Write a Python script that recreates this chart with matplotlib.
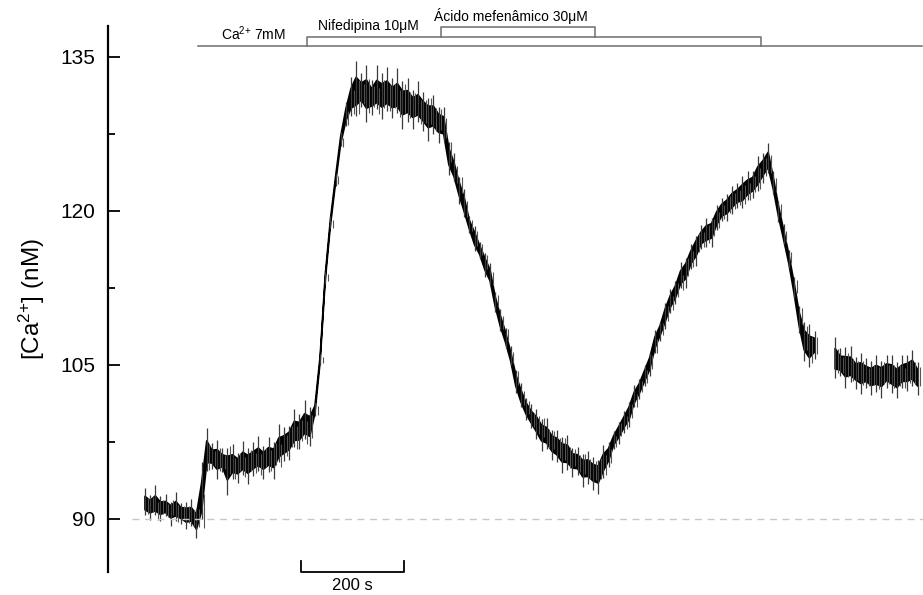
import numpy as np
import matplotlib
matplotlib.use('Agg')
import matplotlib.pyplot as plt

plt.rcParams['font.family'] = ['Liberation Sans', 'DejaVu Sans']
plt.rcParams['mathtext.default'] = 'regular'

# registro de [Ca2+] amostrado a cada 10 s (NaN = trecho sem registro)
tempo = np.arange(0, 1510, 10)
ca_medio = [
    91.4, 91.3, 91.2, 91.1, 91.0, 90.9, 90.8, 90.6, 90.4, 90.3, 89.9,
    91.5,
    96.3, 96.0, 95.8, 95.6, 95.3, 95.2, 95.3, 95.4, 95.5, 95.6, 95.7,
    95.8, 95.9, 96.1, 96.6, 97.2, 97.8, 98.3, 98.6, 98.9, 99.0,
    100.6, 105.5, 113.5, 118.8, 123.0, 126.8, 129.2, 130.8,
    131.4, 131.5, 131.3, 131.1, 131.2, 131.3, 131.3, 131.1, 130.9,
    130.7, 130.5, 130.2, 130.0, 129.7, 129.4, 129.1, 128.7, 128.2,
    125.5, 123.8, 122.3, 120.4, 118.6, 117.3, 116.2, 114.9, 113.6,
    111.2, 109.2, 107.8, 105.8, 103.6, 101.9, 100.8, 99.8,
    99.2, 98.6, 98.0, 97.5, 97.0, 96.6, 96.2, 95.8, 95.5, 95.1,
    94.9, 94.6, 94.6, 95.4,
    96.2, 97.6, 98.6, 99.4, 100.4, 101.7, 102.8, 103.9, 105.2, 107.0,
    108.4, 109.9, 111.1, 112.2, 113.3, 114.3, 115.4, 116.6, 117.3,
    117.8, 118.2, 119.2, 120.0, 120.5, 121.0, 121.4, 121.7, 122.1,
    122.6, 123.3, 124.2, 124.8,
    122.6, 120.0, 117.6, 115.4, 112.6, 109.6, 107.5, 106.6, 106.9,
    np.nan, np.nan, np.nan,
    105.5, 105.1, 104.9, 104.7, 104.4, 104.2, 104.0, 103.9, 103.9,
    104.0, 104.2, 104.0, 103.8, 104.0, 104.3, 104.4, 103.8,
]
# amplitude do ruído abaixo e acima do valor médio (nM)
ruido_baixo = [
    1.0, 1.4, 0.8, 1.3, 0.7, 1.6, 1.0, 1.1, 1.4, 1.0, 1.8,
    1.5,
    1.6, 1.1, 1.9, 1.0, 3.0, 1.3, 1.8, 1.1, 2.1, 1.4, 1.0, 1.9, 1.3,
    2.2, 1.1, 1.6, 2.1, 1.3, 1.8, 1.1, 1.9,
    0.6, 0.5, 0.6, 0.5, 0.6, 0.5, 0.9, 1.6,
    2.2, 1.4, 2.6, 1.8, 1.3, 2.4, 1.6, 2.1, 1.4, 2.7, 1.8, 2.2, 1.3,
    1.9, 2.6, 1.6, 2.1, 1.4,
    2.0, 0.9, 1.6, 1.0, 0.8, 1.2, 0.9, 1.3, 0.8, 1.0, 0.9, 1.2, 0.8,
    1.3, 1.0, 1.2, 0.9,
    1.4, 2.0, 1.2, 1.8, 1.5, 2.1, 1.4, 1.7, 1.2, 2.0, 1.5, 1.8, 2.2, 1.4,
    1.1, 0.8, 1.3, 1.0, 1.4, 0.8, 1.1, 1.0, 1.3, 0.8, 1.1, 1.4, 1.0,
    1.3, 0.8, 1.8, 1.1, 2.0, 1.0, 1.3, 1.7, 1.1, 1.0, 1.5, 1.3, 1.1,
    1.4, 1.0, 1.3, 1.4, 1.5, 1.1,
    1.0, 1.1, 0.8, 1.0, 1.1, 1.5, 2.1, 1.8, 1.3,
    0.0, 0.0, 0.0,
    1.8, 1.2, 2.1, 1.4, 1.7, 2.0, 1.2, 1.8, 1.5, 2.2, 1.4, 1.7, 2.0,
    1.2, 1.8, 1.5, 1.7,
]
ruido_alto = [
    1.6, 1.0, 2.1, 1.1, 1.4, 0.8, 1.8, 1.0, 1.3, 1.6, 1.1,
    4.0,
    2.6, 1.4, 1.9, 1.3, 1.6, 2.1, 1.1, 2.2, 1.4, 1.9, 2.4, 1.3, 2.1,
    1.4, 2.6, 1.8, 1.3, 2.4, 1.6, 2.7, 1.9,
    0.8, 0.6, 0.5, 0.7, 0.6, 0.9, 1.4, 2.2,
    3.2, 1.9, 2.9, 1.6, 3.0, 2.1, 2.7, 1.8, 3.0, 1.9, 2.4, 1.6, 2.6,
    1.9, 1.6, 2.2, 1.4, 1.9,
    1.2, 1.8, 1.0, 1.7, 0.9, 1.2, 0.8, 1.0, 1.3, 0.9, 1.2, 0.8, 1.0,
    0.9, 1.3, 1.0, 1.4,
    1.5, 1.1, 1.8, 1.2, 1.7, 1.4, 2.0, 1.1, 1.5, 1.2, 1.7, 1.4, 1.1, 1.8,
    1.3, 1.0, 0.8, 1.1, 1.0, 1.3, 0.8, 1.1, 1.0, 1.4, 0.8, 1.1, 1.3,
    1.0, 1.7, 1.1, 1.4, 1.0, 1.3, 1.5, 1.1, 1.4, 1.3, 1.1, 1.4, 1.3,
    1.7, 1.8, 1.3, 2.0, 1.4, 1.8,
    1.3, 1.0, 1.1, 0.8, 1.0, 1.1, 1.7, 2.4, 1.4,
    0.0, 0.0, 0.0,
    2.2, 1.5, 1.8, 2.1, 1.4, 2.0, 1.7, 1.5, 2.1, 1.4, 1.8, 2.0, 1.5,
    2.0, 1.7, 2.1, 1.5,
]

# protocolo de perfusão (s)
ca_inicio, ca_fim = 103, 1509
nif_inicio, nif_fim = 314, 1196
acido_inicio, acido_fim = 574, 874
nivel_basal = 90
escala_s = 200
escala_inicio = 303

ca_medio = np.array(ca_medio)
ruido_baixo = np.array(ruido_baixo)
ruido_alto = np.array(ruido_alto)
baixo = ca_medio - ruido_baixo
alto = ca_medio + ruido_alto

fig = plt.figure(figsize=(9.23, 5.95), dpi=100)
ax = fig.add_axes([0.117, 0.0387, 0.883, 0.9176])

# picos do ruído como traços verticais e faixa central preenchida
ax.vlines(tempo, baixo, alto, color='#3a3a3a', lw=0.9)
ax.vlines(tempo + 5, ca_medio - 0.6 * ruido_alto, ca_medio + 0.6 * ruido_baixo,
          color='#555555', lw=0.8)
ax.fill_between(tempo, ca_medio - 0.5 * ruido_baixo,
                ca_medio + 0.5 * ruido_alto, color='black', lw=1.2,
                edgecolor='black')

ax.axhline(nivel_basal, xmin=0.03, color='#c8c8c8', lw=1.0, ls=(0, (5, 4)))

ax.set_xlim(-71.8, 1510.6)
ax.set_ylim(84.84, 138.0)
ax.set_yticks([90, 105, 120, 135])
ax.set_yticks([97.5, 112.5, 127.5], minor=True)
ax.tick_params(axis='y', which='major', direction='in', length=8.6, width=1.3,
               labelsize=15, pad=9)
ax.tick_params(axis='y', which='minor', direction='in', length=5, width=1.3)
ax.set_xticks([])
for lado in ['top', 'right', 'bottom']:
    ax.spines[lado].set_visible(False)
ax.spines['left'].set_linewidth(1.6)
ax.set_ylabel('[Ca$^{2{+}}$] (nM)', fontsize=17.5, labelpad=10)

# barras do protocolo no topo
tr = ax.get_xaxis_transform()
cinza = '#6e6e6e'
ax.plot([ca_inicio, ca_fim], [0.9634, 0.9634], color=cinza, lw=1.1,
        transform=tr, clip_on=False)
ax.plot([nif_inicio, nif_inicio, nif_fim, nif_fim],
        [0.9634, 0.9799, 0.9799, 0.9634], color=cinza, lw=1.1,
        transform=tr, clip_on=False)
ax.plot([acido_inicio, acido_inicio, acido_fim, acido_fim],
        [0.9799, 0.9973, 0.9973, 0.9799], color=cinza, lw=1.1,
        transform=tr, clip_on=False)
ax.text(210, 0.969, 'Ca$^{2{+}}$ 7mM', transform=tr, ha='center', va='bottom',
        fontsize=10)
ax.text(335, 0.988, 'Nifedipina 10μM', transform=tr, ha='left', va='bottom',
        fontsize=10)
ax.text(562, 1.003, 'Ácido mefenâmico 30μM', transform=tr, ha='left',
        va='bottom', fontsize=10)

# barra de escala de tempo
ax.plot([escala_inicio, escala_inicio, escala_inicio + escala_s,
         escala_inicio + escala_s],
        [85.9, 84.84, 84.84, 85.9], color='black', lw=1.3, clip_on=False)
ax.text(escala_inicio + escala_s / 2, 84.3, '%d s' % escala_s,
        ha='center', va='top', fontsize=12)

plt.savefig('out.png', dpi=100)
